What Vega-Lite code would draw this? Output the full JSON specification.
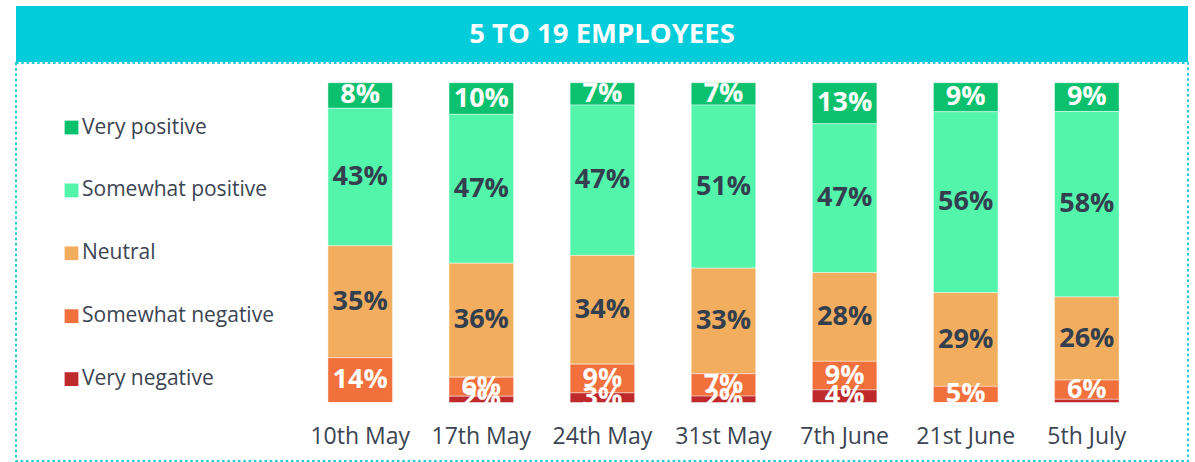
{
  "$schema": "https://vega.github.io/schema/vega-lite/v6.json",
  "padding": {"left": 15, "top": 6, "right": 8, "bottom": 2},
  "spacing": 0,
  "config": {"font": "Open Sans", "view": {"stroke": null}},
  "datasets": {
    "survey": [
      {"date": "10th May", "cat": "Very positive", "v": 8, "rank": 5},
      {"date": "10th May", "cat": "Somewhat positive", "v": 43, "rank": 4},
      {"date": "10th May", "cat": "Neutral", "v": 35, "rank": 3},
      {"date": "10th May", "cat": "Somewhat negative", "v": 14, "rank": 2},
      {"date": "10th May", "cat": "Very negative", "v": 0, "rank": 1},
      {"date": "17th May", "cat": "Very positive", "v": 10, "rank": 5},
      {"date": "17th May", "cat": "Somewhat positive", "v": 47, "rank": 4},
      {"date": "17th May", "cat": "Neutral", "v": 36, "rank": 3},
      {"date": "17th May", "cat": "Somewhat negative", "v": 6, "rank": 2},
      {"date": "17th May", "cat": "Very negative", "v": 2, "rank": 1},
      {"date": "24th May", "cat": "Very positive", "v": 7, "rank": 5},
      {"date": "24th May", "cat": "Somewhat positive", "v": 47, "rank": 4},
      {"date": "24th May", "cat": "Neutral", "v": 34, "rank": 3},
      {"date": "24th May", "cat": "Somewhat negative", "v": 9, "rank": 2},
      {"date": "24th May", "cat": "Very negative", "v": 3, "rank": 1},
      {"date": "31st May", "cat": "Very positive", "v": 7, "rank": 5},
      {"date": "31st May", "cat": "Somewhat positive", "v": 51, "rank": 4},
      {"date": "31st May", "cat": "Neutral", "v": 33, "rank": 3},
      {"date": "31st May", "cat": "Somewhat negative", "v": 7, "rank": 2},
      {"date": "31st May", "cat": "Very negative", "v": 2, "rank": 1},
      {"date": "7th June", "cat": "Very positive", "v": 13, "rank": 5},
      {"date": "7th June", "cat": "Somewhat positive", "v": 47, "rank": 4},
      {"date": "7th June", "cat": "Neutral", "v": 28, "rank": 3},
      {"date": "7th June", "cat": "Somewhat negative", "v": 9, "rank": 2},
      {"date": "7th June", "cat": "Very negative", "v": 4, "rank": 1},
      {"date": "21st June", "cat": "Very positive", "v": 9, "rank": 5},
      {"date": "21st June", "cat": "Somewhat positive", "v": 56, "rank": 4},
      {"date": "21st June", "cat": "Neutral", "v": 29, "rank": 3},
      {"date": "21st June", "cat": "Somewhat negative", "v": 5, "rank": 2},
      {"date": "21st June", "cat": "Very negative", "v": 0, "rank": 1},
      {"date": "5th July", "cat": "Very positive", "v": 9, "rank": 5},
      {"date": "5th July", "cat": "Somewhat positive", "v": 58, "rank": 4},
      {"date": "5th July", "cat": "Neutral", "v": 26, "rank": 3},
      {"date": "5th July", "cat": "Somewhat negative", "v": 6, "rank": 2},
      {"date": "5th July", "cat": "Very negative", "v": 1, "rank": 1}
    ]
  },
  "vconcat": [
    {
      "width": 1172,
      "height": 56,
      "view": {"fill": "#00CCDA", "stroke": null},
      "data": {"values": [{"title": "5 TO 19 EMPLOYEES"}]},
      "mark": {"type": "text", "font": "Open Sans", "fontWeight": "bold", "fontSize": 27.5, "color": "#FFFFFF", "baseline": "middle", "align": "center", "dy": 1},
      "encoding": {"text": {"field": "title", "type": "nominal"}}
    },
    {
      "width": 1172,
      "height": 398,
      "view": {"stroke": "#1FCAD6", "strokeWidth": 2, "strokeDash": [2.5, 2.8]},
      "data": {"name": "survey"},
      "encoding": {
        "x": {
          "field": "date", "type": "nominal", "sort": null,
          "scale": {"range": [283.65, 1131.35], "paddingInner": 0.467, "paddingOuter": 0.2335},
          "axis": {"title": null, "orient": "bottom", "offset": -18, "ticks": false, "tickSize": 0, "domain": false, "labelAngle": 0, "labelFont": "Open Sans", "labelFontSize": 23, "labelColor": "#3B4452", "labelBaseline": "alphabetic", "labelPadding": 0}
        }
      },
      "layer": [
        {
          "mark": {"type": "bar", "stroke": "#FFFFFF", "strokeWidth": 0.75, "strokeOpacity": 0.6},
          "encoding": {
            "y": {"field": "v", "type": "quantitative", "stack": "normalize", "scale": {"domain": [-0.1829, 1.0616], "nice": false, "zero": false}, "axis": null},
            "order": {"field": "rank", "type": "quantitative"},
            "color": {
              "field": "cat", "type": "nominal",
              "scale": {"domain": ["Very positive", "Somewhat positive", "Neutral", "Somewhat negative", "Very negative"], "range": ["#0CC16D", "#53F5AB", "#F2AE5E", "#F2703B", "#BE292C"]},
              "legend": {"orient": "none", "legendX": 45, "legendY": 111, "title": null, "padding": 0, "symbolType": "square", "symbolSize": 190, "symbolStrokeWidth": 0, "symbolOpacity": 1, "labelFont": "Open Sans", "labelFontSize": 21, "labelColor": "#3B4452", "labelOffset": 0, "rowPadding": 40.9, "labelLimit": 300}
            }
          }
        },
        {
          "transform": [
            {"stack": "v", "groupby": ["date"], "sort": [{"field": "rank", "order": "ascending"}], "offset": "normalize", "as": ["s0", "s1"]},
            {"calculate": "(datum.s0 + datum.s1) / 2", "as": "mid"},
            {"calculate": "datum.v + '%'", "as": "label"},
            {"filter": "datum.v >= 2"}
          ],
          "mark": {"type": "text", "font": "Open Sans", "fontWeight": "bold", "fontSize": 27, "baseline": "middle", "align": "center"},
          "encoding": {
            "y": {"field": "mid", "type": "quantitative", "scale": {"domain": [-0.1829, 1.0616], "nice": false, "zero": false}, "axis": null},
            "text": {"field": "label", "type": "nominal"},
            "fill": {"condition": {"test": "datum.cat === 'Somewhat positive' || datum.cat === 'Neutral'", "value": "#333F4F"}, "value": "#FFFFFF"}
          }
        }
      ]
    }
  ]
}
